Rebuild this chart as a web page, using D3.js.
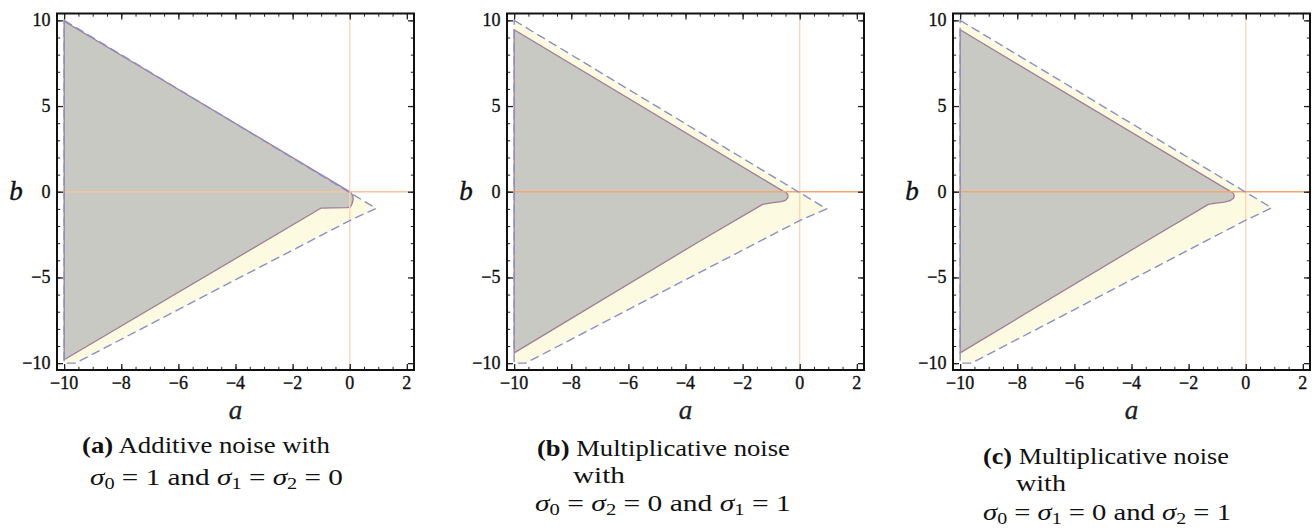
<!DOCTYPE html>
<html>
<head>
<meta charset="utf-8">
<script src="https://cdn.jsdelivr.net/npm/d3@7"></script>
<style>
  body { margin: 0; background: #fff; }
  svg { display: block; }
  .tick-label { font-family: "Liberation Serif", "Times New Roman", serif; font-size: 18px;
                fill: #111; stroke: #111; stroke-width: 0.35px; }
  .axis-title { font-family: "Liberation Serif", "Times New Roman", serif; font-size: 27px; font-style: italic; }
  .caption { font-family: "Liberation Serif", "Times New Roman", serif; font-size: 23px; fill: #111; }
</style>
</head>
<body>
<svg id="chart" width="1315" height="530"></svg>
<script>
// Axis ranges and tick labels shared by the three panels
const xDomain = [-10.25, 2.25];
const yDomain = [-10.4, 10.4];
const xTicks = [-10, -8, -6, -4, -2, 0, 2];
const yTicks = [-10, -5, 0, 5, 10];

// Region bounded by the dashed curves (deterministic stability), vertices as [a, b]
const boundA = [[-10, 10], [0.92, -0.97], [0, -1.68], [-5, -6.0], [-9.6, -10], [-10, -10]];
const boundB = [[-10, 10], [0.94, -1.0], [0, -1.68], [-5, -6.0], [-9.6, -10], [-10, -10]];
const boundC = [[-10, 10], [0.91, -0.94], [0, -1.66], [-5, -6.0], [-9.6, -10], [-10, -10]];

// Stochastically stable region (grey), vertices as [a, b]
const stableA = [[-10, 9.95], [-0.05, 0.05], [0.05, -0.06], [0.11, -0.25], [0.12, -0.45],
                 [0.08, -0.7], [0.02, -0.88], [-0.1, -0.93], [-1.0, -0.95], [-10, -9.8]];
const stableB = [[-10, 9.45], [-0.6, 0.05], [-0.47, -0.05], [-0.41, -0.2], [-0.42, -0.35],
                 [-0.5, -0.5], [-0.65, -0.58], [-1.0, -0.65], [-1.3, -0.74], [-3.52, -2.9], [-10, -9.4]];
const stableC = [[-10, 9.45], [-0.57, 0.05], [-0.45, -0.06], [-0.4, -0.22], [-0.43, -0.38],
                 [-0.55, -0.52], [-0.75, -0.6], [-1.05, -0.66], [-1.31, -0.74], [-3.5, -2.9], [-10, -9.4]];

// Sub-figure captions: each line is a list of text runs
const captionA = [
  [{ t: "(a)", bold: true }, { t: " Additive noise with" }],
  [{ t: "σ", it: true }, { t: "0", sub: true }, { t: " = 1 and " }, { t: "σ", it: true }, { t: "1", sub: true },
   { t: " = " }, { t: "σ", it: true }, { t: "2", sub: true }, { t: " = 0" }]
];
const captionB = [
  [{ t: "(b)", bold: true }, { t: " Multiplicative noise" }],
  [{ t: "with" }],
  [{ t: "σ", it: true }, { t: "0", sub: true }, { t: " = " }, { t: "σ", it: true }, { t: "2", sub: true },
   { t: " = 0 and " }, { t: "σ", it: true }, { t: "1", sub: true }, { t: " = 1" }]
];
const captionC = [
  [{ t: "(c)", bold: true }, { t: " Multiplicative noise" }],
  [{ t: "with" }],
  [{ t: "σ", it: true }, { t: "0", sub: true }, { t: " = " }, { t: "σ", it: true }, { t: "1", sub: true },
   { t: " = 0 and " }, { t: "σ", it: true }, { t: "2", sub: true }, { t: " = 1" }]
];

// Layout
const plotW = 357, plotTop = 13.5, plotH = 356.5;
const panels = [
  { left: 57,  bound: boundA, stable: stableA, caption: captionA, hColor: "#f9c3a0",
    lines: [{ x: 82, y: 453, w: 248 }, { x: 90, y: 485, w: 253 }] },
  { left: 507, bound: boundB, stable: stableB, caption: captionB, hColor: "#f6a670",
    lines: [{ x: 537, y: 456, w: 253 }, { x: 573, y: 483, w: 52 }, { x: 535, y: 511, w: 256 }] },
  { left: 953, bound: boundC, stable: stableC, caption: captionC, hColor: "#f6a670",
    lines: [{ x: 983, y: 464, w: 246 }, { x: 1016, y: 491, w: 50 }, { x: 983, y: 520, w: 248 }] }
];

const svg = d3.select("#chart");
const fmt = d3.format("d");   // uses the typographic minus sign

panels.forEach((p, i) => {
  const x = d3.scaleLinear().domain(xDomain).range([p.left, p.left + plotW]);
  const y = d3.scaleLinear().domain(yDomain).range([plotTop + plotH, plotTop]);
  const g = svg.append("g");

  const clipId = "clip" + i;
  svg.append("clipPath").attr("id", clipId)
    .append("rect").attr("x", p.left).attr("y", plotTop).attr("width", plotW).attr("height", plotH);

  const area = g.append("g").attr("clip-path", `url(#${clipId})`);
  const poly = d3.line().x(d => x(d[0])).y(d => y(d[1])).curve(d3.curveLinearClosed);

  // deterministic region (pale yellow)
  area.append("path").attr("d", poly(p.bound))
    .attr("fill", "#fcfae0").attr("stroke", "none");

  // stochastic region (grey) with its contour
  area.append("path").attr("d", poly(p.stable))
    .attr("fill", "#c9c9c4").attr("stroke", "#a27c98").attr("stroke-width", 1.3)
    .attr("stroke-linejoin", "round");

  // coordinate axes through the origin
  area.append("line")
    .attr("x1", x(0)).attr("x2", x(0)).attr("y1", plotTop).attr("y2", plotTop + plotH)
    .attr("stroke", "#fbd2b6").attr("stroke-width", 1.3);
  area.append("line")
    .attr("x1", p.left).attr("x2", p.left + plotW).attr("y1", y(0)).attr("y2", y(0))
    .attr("stroke", p.hColor).attr("stroke-width", 1.4);

  // dashed boundary of the deterministic region
  area.append("path").attr("d", poly(p.bound))
    .attr("fill", "none").attr("stroke", "#8a8fc6").attr("stroke-width", 1.4)
    .attr("stroke-dasharray", "9,4.5");

  // frame ticks (inward, on every side); labels drawn separately below
  const xMinor = d3.range(-10, 2.01, 0.5);
  const yMinor = d3.range(-10, 10.01, 1);
  const bottom = plotTop + plotH, right = p.left + plotW;
  const sides = [
    [d3.axisBottom, x, `translate(0,${bottom})`, xTicks, xMinor],
    [d3.axisTop, x, `translate(0,${plotTop})`, xTicks, xMinor],
    [d3.axisLeft, y, `translate(${p.left},0)`, yTicks, yMinor],
    [d3.axisRight, y, `translate(${right},0)`, yTicks, yMinor]
  ];
  sides.forEach(([gen, sc, tr, major, minor]) => {
    [[minor, -3.2, 1], [major, -6, 1.3]].forEach(([vals, size, sw]) => {
      g.append("g").attr("transform", tr)
        .call(gen(sc).tickValues(vals).tickSizeInner(size).tickSizeOuter(0).tickFormat(() => ""))
        .call(s => s.select(".domain").remove())
        .call(s => s.selectAll("text").remove())
        .call(s => s.selectAll("line").attr("stroke", "#222").attr("stroke-width", sw));
    });
  });

  // tick labels
  g.selectAll("text.xl").data(xTicks).enter().append("text")
    .attr("class", "tick-label xl")
    .attr("x", d => x(d)).attr("y", bottom + 19)
    .attr("text-anchor", "middle").text(fmt);
  g.selectAll("text.yl").data(yTicks).enter().append("text")
    .attr("class", "tick-label yl")
    .attr("x", p.left - 6.5).attr("y", d => y(d) + 6)
    .attr("text-anchor", "end").text(fmt);

  g.append("rect").attr("x", p.left).attr("y", plotTop).attr("width", plotW).attr("height", plotH)
    .attr("fill", "none").attr("stroke", "#111").attr("stroke-width", 2);

  // axis titles
  g.append("text").attr("class", "axis-title")
    .attr("x", p.left - 41).attr("y", y(0) + 8).attr("text-anchor", "middle")
    .attr("fill", "#111").attr("stroke", "#111").attr("stroke-width", 0.4).text("b");
  g.append("text").attr("class", "axis-title")
    .attr("x", p.left + plotW / 2).attr("y", 419).attr("text-anchor", "middle")
    .attr("fill", "#222").attr("stroke", "#222").attr("stroke-width", 0.3).text("a");

  // caption lines, each stretched to its slot width
  p.caption.forEach((runs, k) => {
    const slot = p.lines[k];
    const t = g.append("text").attr("class", "caption");
    runs.forEach((r, j) => {
      const ts = t.append("tspan").text(r.t);
      if (r.bold) ts.style("font-weight", "bold");
      if (r.it) ts.style("font-style", "italic");
      if (r.sub) ts.style("font-size", "16px").attr("dy", 4);
      else if (j > 0 && runs[j - 1].sub) ts.attr("dy", -4);
    });
    const w = t.node().getComputedTextLength();
    t.attr("transform", `translate(${slot.x},${slot.y}) scale(${slot.w / w},1)`);
  });
});
</script>
</body>
</html>
